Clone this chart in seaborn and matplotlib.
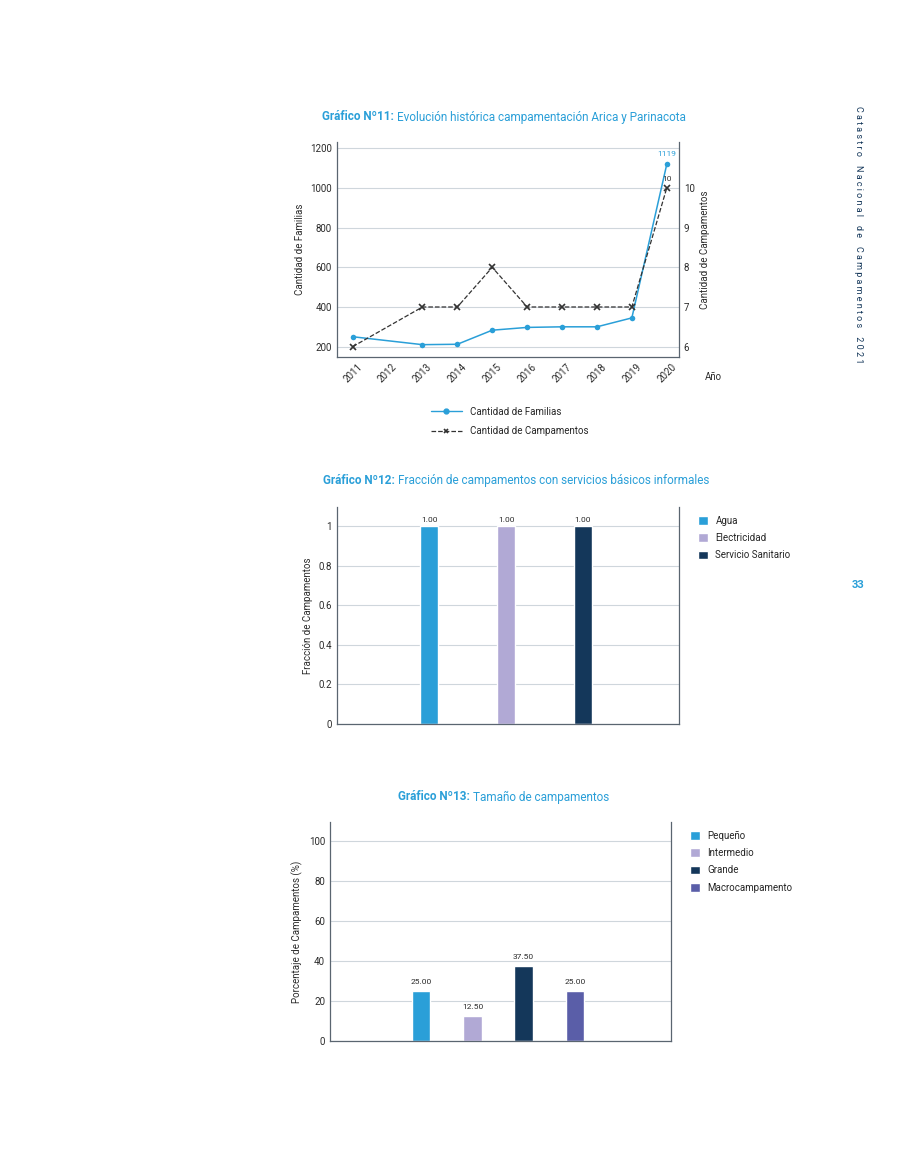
import matplotlib
matplotlib.use("Agg")
import matplotlib.pyplot as plt
import seaborn as sns
import pandas as pd
from matplotlib.lines import Line2D

# --- data ---
years = ["2011", "2012", "2013", "2014", "2015", "2016", "2017", "2018", "2019", "2020"]
familias = [250, None, 210, 212, 283, 297, 300, 300, 345, 1119]
campamentos = [6, None, 7, 7, 8, 7, 7, 7, 7, 10]

servicios = ["Agua", "Electricidad", "Servicio Sanitario"]
fraccion = [1.0, 1.0, 1.0]

tamanos = ["Pequeño", "Intermedio", "Grande", "Macrocampamento"]
porcentaje = [25.0, 12.5, 37.5, 25.0]

BLUE = "#2a9fd8"
LILAC = "#b1a9d5"
NAVY = "#14375a"
PURPLE = "#5a5ea8"
TXT = "#2b2b2b"

sns.set_theme(style="white")
plt.rcParams["font.family"] = ["Roboto", "DejaVu Sans"]
plt.rcParams["font.size"] = 7

fig = plt.figure(figsize=(9, 11.65), dpi=100)


def style_axes(ax):
    ax.yaxis.grid(True, color="#cfd6dc", lw=0.8)
    ax.set_axisbelow(True)
    for s in ["left", "bottom", "right"]:
        ax.spines[s].set_visible(True)
        ax.spines[s].set_color("#5a6570")
        ax.spines[s].set_linewidth(0.9)
    ax.spines["top"].set_visible(False)
    ax.tick_params(axis="both", labelsize=7, colors=TXT, length=0)


def title(x_split, y, bold, rest):
    fig.text(x_split, y, bold, ha="right", va="center", fontsize=8.5,
             fontweight="bold", color=BLUE)
    fig.text(x_split + 0.003, y, rest, ha="left", va="center", fontsize=8.5,
             color=BLUE)


# --- chart 11 ---
df1 = pd.DataFrame({"year": range(len(years)), "fam": familias, "camp": campamentos}).dropna()
ax1 = fig.add_axes([0.3744, 0.6936, 0.38, 0.1845])
sns.lineplot(data=df1, x="year", y="fam", ax=ax1, color=BLUE, marker="o",
             markersize=4, markeredgewidth=0, lw=1.1)
ax1.set_ylim(148, 1232)
ax1.set_yticks([200, 400, 600, 800, 1000, 1200])
ax1.set_xlim(-0.45, 9.35)
ax1.set_xticks(range(len(years)))
ax1.set_xticklabels(years, rotation=45)
ax1.set_xlabel("")
ax1.set_ylabel("Cantidad de Familias", fontsize=7, color=TXT)
style_axes(ax1)
ax1b = ax1.twinx()
sns.lineplot(data=df1, x="year", y="camp", ax=ax1b, color="#333333", marker="x",
             markersize=4, markeredgewidth=1.2, markeredgecolor="#333333",
             lw=0.9, linestyle="--")
ax1b.set_ylim(5.74, 11.16)
ax1b.set_yticks([6, 7, 8, 9, 10])
ax1b.set_ylabel("Cantidad de Campamentos", fontsize=7, color=TXT)
ax1b.tick_params(axis="y", labelsize=7, colors=TXT, length=0)
for s in ax1b.spines.values():
    s.set_visible(False)
ax1.annotate("1119", (9, familias[-1]), xytext=(0, 6), textcoords="offset points",
             ha="center", fontsize=6, color=BLUE)
ax1b.annotate("10", (9, campamentos[-1]), xytext=(0, 5), textcoords="offset points",
              ha="center", fontsize=6, color="#333333")
fig.text(705 / 900, 1 - 377 / 1165, "Año", fontsize=7, color=TXT, va="center")
handles = [Line2D([], [], color=BLUE, marker="o", markersize=3.5, lw=1),
           Line2D([], [], color="#333333", marker="x", markersize=3.5,
                  markeredgewidth=1.2, lw=0.9, ls="--")]
fig.legend(handles, ["Cantidad de Familias", "Cantidad de Campamentos"],
           loc="upper left", bbox_to_anchor=(422 / 900, 1 - 398 / 1165),
           frameon=False, fontsize=7, handlelength=3.2, labelspacing=1.0)
title(394 / 900, 1 - 117 / 1165, "Gráfico Nº11:", "Evolución histórica campamentación Arica y Parinacota")

# --- chart 12 ---
df2 = pd.DataFrame({"servicio": servicios, "valor": fraccion})
ax2 = fig.add_axes([0.3744, 0.3785, 0.38, 0.1863])
sns.barplot(data=df2, x="servicio", y="valor", hue="servicio", saturation=1,
            palette=[BLUE, LILAC, NAVY], width=0.23, ax=ax2, legend=True)
ax2.set_xlim(-1.2, 3.25)
ax2.set_ylim(0, 1.096)
ax2.set_yticks([0, 0.2, 0.4, 0.6, 0.8, 1])
ax2.set_yticklabels(["0", "0.2", "0.4", "0.6", "0.8", "1"])
ax2.set_xticks([])
ax2.set_xlabel("")
ax2.set_ylabel("Fracción de Campamentos", fontsize=7, color=TXT)
style_axes(ax2)
for c in ax2.containers:
    ax2.bar_label(c, fmt="%.2f", fontsize=6, padding=2, color=TXT)
ax2.legend(loc="upper left", bbox_to_anchor=(1.03, 1.0), frameon=False,
           fontsize=7, handlelength=1.0, handleheight=1.0, labelspacing=0.75)
title(395 / 900, 1 - 481 / 1165, "Gráfico Nº12:", "Fracción de campamentos con servicios básicos informales")

# --- chart 13 ---
df3 = pd.DataFrame({"tamano": tamanos, "pct": porcentaje})
ax3 = fig.add_axes([0.3667, 0.1064, 0.379, 0.188])
sns.barplot(data=df3, x="tamano", y="pct", hue="tamano", saturation=1,
            palette=[BLUE, LILAC, NAVY, PURPLE], width=0.36, ax=ax3, legend=True)
ax3.set_xlim(-1.78, 4.88)
ax3.set_ylim(0, 109.5)
ax3.set_yticks([0, 20, 40, 60, 80, 100])
ax3.set_xticks([])
ax3.set_xlabel("")
ax3.set_ylabel("Porcentaje de Campamentos (%)", fontsize=7, color=TXT)
style_axes(ax3)
for c in ax3.containers:
    ax3.bar_label(c, fmt="%.2f", fontsize=6, padding=4, color=TXT)
ax3.legend(loc="upper left", bbox_to_anchor=(1.03, 1.0), frameon=False,
           fontsize=7, handlelength=1.0, handleheight=1.0, labelspacing=0.75)
title(470 / 900, 1 - 797 / 1165, "Gráfico Nº13:", "Tamaño de campamentos")

# --- page decorations ---
fig.text(858 / 900, 1 - 235 / 1165, " ".join("Catastro Nacional de Campamentos 2021").replace("   ", "    "),
         rotation=-90, ha="center", va="center", fontsize=6.5, color=NAVY)
fig.text(858 / 900, 1 - 585 / 1165, "33", ha="center", va="center", fontsize=8,
         fontweight="bold", color=BLUE)

fig.savefig("out.png", dpi=100)
